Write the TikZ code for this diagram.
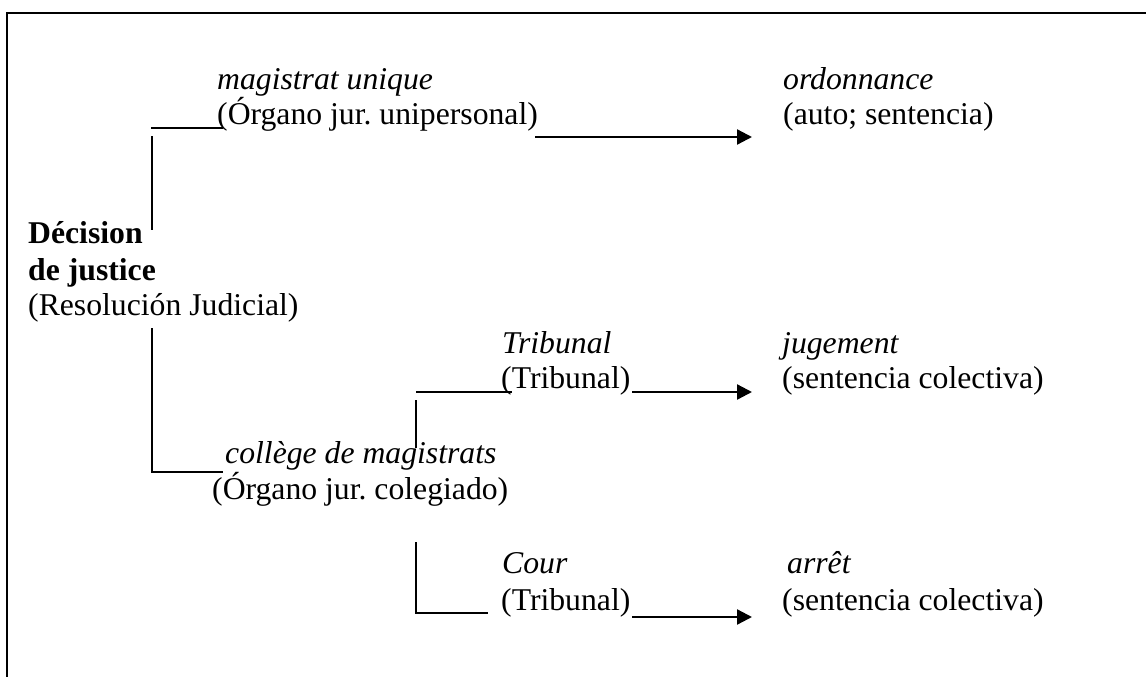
\documentclass[tikz,border=0pt]{standalone}
\usepackage{fontspec}
\setmainfont{Liberation Serif}
\usepackage{tikz}
\usetikzlibrary{arrows.meta}
\frenchspacing
\tikzset{
	txt/.style   = {anchor = base west, inner sep = 0pt,
		font = \fontsize{31.7}{35}\selectfont},
	term/.style  = {txt, font = \fontsize{31.7}{35}\selectfont\itshape},
	head/.style  = {txt, font = \fontsize{31.7}{35}\selectfont\bfseries},
	link/.style  = {line width = 1.5pt},
	flow/.style  = {->, line width = 2.3pt},
	pin/.style   = {coordinate}
}

\begin{document}
\begin{tikzpicture}[x=1pt, y=-1pt, >={Triangle[length=15pt, width=15pt]}]
	\useasboundingbox (0,0) rectangle (1146,677);
	\draw[line width = 2.2pt] (1146,13) -- (7,13) -- (7,677);
	
	\draw
	node at (217,89)[term] (uniFr) {magistrat unique}
	node at (217,124)[txt] (uniEs) {(Órgano jur. unipersonal)}
	node at (783,89)[term] (ordFr) {ordonnance}
	node at (783,124)[txt] (ordEs) {(auto; sentencia)}
	node at (28,243)[head] (dec1) {Décision}
	node at (28,280)[head] (dec2) {de justice}
	node at (28,315)[txt] (dec3) {(Resolución Judicial)}
	node at (502,353)[term] (triFr) {Tribunal}
	node at (501,388)[txt] (triEs) {(Tribunal)}
	node at (782,353)[term] (jugFr) {jugement}
	node at (782,388)[txt] (jugEs) {(sentencia colectiva)}
	node at (225,463)[term] (colFr) {collège de magistrats}
	node at (212,499)[txt] (colEs) {(Órgano jur. colegiado)}
	node at (502,573)[term] (courFr) {Cour}
	node at (501,610)[txt] (courEs) {(Tribunal)}
	node at (787,573)[term] (arrFr) {arrêt}
	node at (782,610)[txt] (arrEs) {(sentencia colectiva)}
	;
	
	% bracket points
	\draw
	node at (151,128)[pin] (b1a){} node at (223,128)[pin] (b1b){}
	node at (152,136)[pin] (b1c){} node at (152,230)[pin] (b1d){}
	node at (152,328)[pin] (b2a){} node at (152,472)[pin] (b2b){}
	node at (223,472)[pin] (b2c){}
	node at (416,392)[pin] (b3a){} node at (512,392)[pin] (b3b){}
	node at (416,400)[pin] (b3c){} node at (416,448)[pin] (b3d){}
	node at (416,542)[pin] (b4a){} node at (416,613)[pin] (b4b){}
	node at (488,613)[pin] (b4c){}
	node at (535,137)[pin] (a1s){} node at (752,137)[pin] (a1e){}
	node at (632,392)[pin] (a2s){} node at (752,392)[pin] (a2e){}
	node at (632,617)[pin] (a3s){} node at (752,617)[pin] (a3e){}
	;
	
	\draw[link] (b1a) -- (b1b);
	\draw[link] (b1c) -- (b1d);
	\draw[link] (b2a) -- (b2b) -- (b2c);
	\draw[link] (b3a) -- (b3b);
	\draw[link] (b3c) -- (b3d);
	\draw[link] (b4a) -- (b4b) -- (b4c);
	
	\draw[flow] (a1s) -- (a1e);
	\draw[flow] (a2s) -- (a2e);
	\draw[flow] (a3s) -- (a3e);
\end{tikzpicture}
\end{document}
